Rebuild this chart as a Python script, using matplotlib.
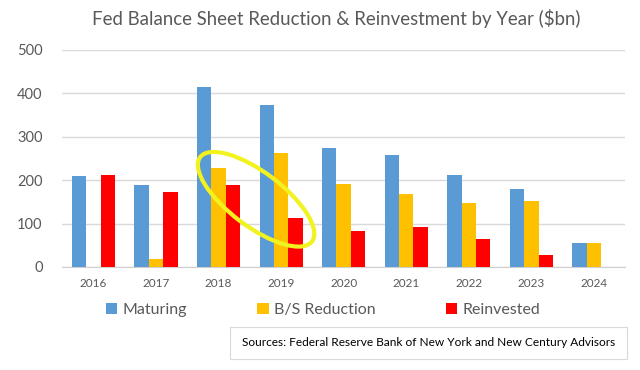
import matplotlib
matplotlib.use("Agg")
import matplotlib.pyplot as plt
from matplotlib.patches import Ellipse, Rectangle
from matplotlib.transforms import IdentityTransform
import numpy as np

years = ["2016", "2017", "2018", "2019", "2020", "2021", "2022", "2023", "2024"]
maturing = [210, 190, 415, 373, 275, 258, 212, 180, 55]
bs_reduction = [0, 18, 228, 263, 192, 168, 147, 152, 55]
reinvested = [213, 172, 190, 112, 82, 92, 65, 27, 0]
series_names = ["Maturing", "B/S Reduction", "Reinvested"]
colors = ["#5B9BD5", "#FFC000", "#FF0000"]

plt.rcParams['font.family'] = ['Lato', 'DejaVu Sans']

fig = plt.figure(figsize=(6.4, 3.7), dpi=100)
ax = fig.add_axes([0.097, 0.2784, 0.880, 0.5866])

x = np.arange(len(years))
w = 0.23
for k, (vals, name, c) in enumerate(zip([maturing, bs_reduction, reinvested], series_names, colors)):
    ax.bar(x + (k - 1) * w, vals, width=w, color=c, label=name, zorder=3)

ax.set_xlim(-0.5, len(years) - 0.5)
ax.set_ylim(0, 500)
ax.set_yticks(range(0, 501, 100))
ax.set_xticks(x)
ax.set_xticklabels(years)
ax.grid(axis='y', color='#D9D9D9', linewidth=1, zorder=0)
for s in ['top', 'right', 'left']:
    ax.spines[s].set_visible(False)
ax.spines['bottom'].set_color('#D0D0D0')
ax.tick_params(axis='y', length=0, labelsize=10.5, labelcolor='#595959', pad=14)
ax.tick_params(axis='x', length=0, labelsize=8.5, labelcolor='#595959', pad=8)

fig.text(0.526, 0.951, "Fed Balance Sheet Reduction & Reinvestment by Year ($bn)",
         ha='center', va='center', fontsize=13.4, color='#595959')

leg = fig.legend(loc='center', bbox_to_anchor=(0.505, 0.162), ncol=3, frameon=False,
                 fontsize=11.5, handlelength=0.7, handleheight=0.7, handletextpad=0.35,
                 columnspacing=4.4)
for t in leg.get_texts():
    t.set_color('#595959')

# Sources box
fig.patches.append(Rectangle((0.36, 0.030), 0.620, 0.086, transform=fig.transFigure,
                             facecolor='white', edgecolor='#D9D9D9', linewidth=0.8))
fig.text(0.670, 0.073, "Sources: Federal Reserve Bank of New York and New Century Advisors",
         ha='center', va='center', fontsize=8.6, color='#000000')

# Yellow highlight ellipse (annotation, positioned in pixel space)
fig.canvas.draw()
cx, cy = ax.transData.transform((2.6, 156))
ell = Ellipse((cx, cy), width=140, height=54, angle=-37, transform=IdentityTransform(),
              fill=False, edgecolor='#F2F21E', linewidth=3, zorder=5)
fig.patches.append(ell)

fig.savefig("out.png", dpi=100)
